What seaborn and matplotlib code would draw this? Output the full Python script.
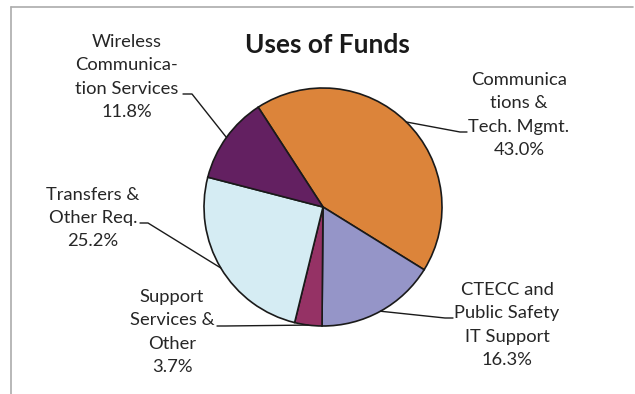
import matplotlib
matplotlib.use("Agg")
import matplotlib.pyplot as plt
from matplotlib.lines import Line2D
import numpy as np
import seaborn as sns

# Budget categories, drawn clockwise from the upper-left
categories = [
    "Communica\ntions &\nTech. Mgmt.",
    "CTECC and\nPublic Safety\nIT Support",
    "Support\nServices &\nOther",
    "Transfers &\nOther Req.",
    "Wireless\nCommunica-\ntion Services",
]
shares = [43.0, 16.3, 3.7, 25.2, 11.8]
slice_colors = ["#DC843A", "#9595C8", "#953265", "#D5ECF3", "#632061"]
title = "Uses of Funds"

sns.set_theme(style="white")
plt.rcParams["font.family"] = ["Lato", "DejaVu Sans"]

W, H = 635, 394
fig = plt.figure(figsize=(W / 100, H / 100), dpi=100)
fig.patch.set_facecolor("white")

# pie axes: centre (323, 207) px, radius 119 px
cx, cy, r = 323, 207, 119
ax = fig.add_axes([(cx - r) / W, (H - cy - r) / H, 2 * r / W, 2 * r / H])
palette = sns.color_palette(slice_colors)
wedges, _ = ax.pie(
    shares,
    colors=palette,
    startangle=123,
    counterclock=False,
    radius=1.0,
    wedgeprops=dict(edgecolor="#1a1a1a", linewidth=1.2),
)
ax.set_xlim(-1, 1)
ax.set_ylim(-1, 1)
ax.set_aspect("equal")
ax.axis("off")

# overlay in pixel units for title, labels and leader lines
ov = fig.add_axes([0, 0, 1, 1], zorder=5)
ov.set_xlim(0, W)
ov.set_ylim(H, 0)
ov.axis("off")
ov.patch.set_alpha(0)

# chart frame (top and left edges visible)
frame_kw = dict(color="#ABABAB", linewidth=1.2)
ov.add_line(Line2D([11, 633], [7, 7], **frame_kw))
ov.add_line(Line2D([11, 11], [7, 394], **frame_kw))

ov.text(327, 45, title, ha="center", va="center", fontsize=19,
        fontweight="bold", color="#1a1a1a")

# label block centres and leader anchor points (end at text, knee)
label_pos = [(519, 115), (507, 325), (172, 332), (93, 218), (127, 77)]
leader_pts = [
    ((467, 132), (460, 132)),
    ((453, 318), (445, 318)),
    ((217, 326), (225, 326)),
    ((140, 223), (148, 223)),
    ((183, 94), (192, 94)),
]

to_ov = ax.transData + ov.transData.inverted()
for w, name, val, (lx, ly), (tip, knee) in zip(
        wedges, categories, shares, label_pos, leader_pts):
    mid = np.deg2rad((w.theta1 + w.theta2) / 2)
    ex, ey = to_ov.transform((np.cos(mid), np.sin(mid)))
    ov.add_line(Line2D([tip[0], knee[0], ex], [tip[1], knee[1], ey],
                       color="#1a1a1a", linewidth=1.0))
    ov.text(lx, ly, f"{name}\n{val:.1f}%", ha="center", va="center",
            fontsize=13.2, color="#262626", linespacing=1.55)

fig.savefig("out.png", dpi=100)
